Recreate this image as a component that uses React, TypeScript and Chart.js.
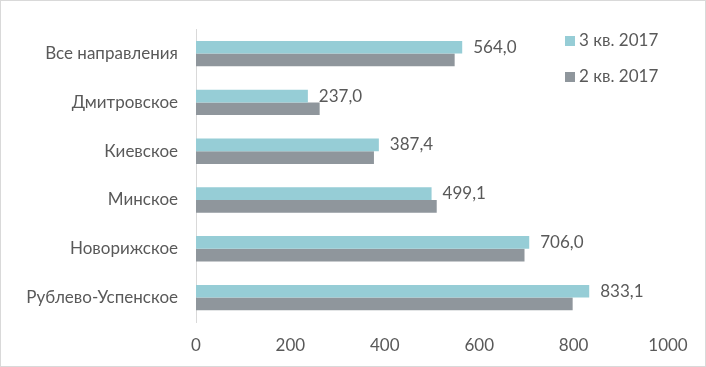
import React, { useEffect, useRef } from "react";
import { Chart, registerables } from "chart.js";

Chart.register(...registerables);

const categories = ["Все направления", "Дмитровское", "Киевское", "Минское", "Новорижское", "Рублево-Успенское"];
const seriesNames = ["3 кв. 2017", "2 кв. 2017"];
const q3Values = [564.0, 237.0, 387.4, 499.1, 706.0, 833.1];
const q2Values = [548, 262, 377, 510, 696, 798];
const xTicks = [0, 200, 400, 600, 800, 1000];

const TEAL = "#96CDD6";
const GRAY = "#8F969C";
const TEXT = "#595959";
const FONT = "Lato, 'Open Sans', sans-serif";
const FS = 17;

export default function App() {
  const ref = useRef<HTMLCanvasElement | null>(null);

  useEffect(() => {
    document.body.style.margin = "0";
    const canvas = ref.current!;
    const labelPlugin = {
      id: "labels",
      afterDatasetsDraw(chart: any) {
        const ctx = chart.ctx;
        ctx.save();
        ctx.font = `${FS}px ${FONT}`;
        ctx.fillStyle = TEXT;
        ctx.textBaseline = "middle";
        ctx.textAlign = "left";
        const meta = chart.getDatasetMeta(0);
        meta.data.forEach((bar: any, i: number) => {
          ctx.fillText(q3Values[i].toFixed(1).replace(".", ","), bar.x + 11, bar.y);
        });
        // legend
        const items = [
          { name: seriesNames[0], color: TEAL, y: 40 },
          { name: seriesNames[1], color: GRAY, y: 76 },
        ];
        items.forEach((it) => {
          ctx.fillStyle = it.color;
          ctx.fillRect(564, it.y - 5, 10, 10);
          ctx.fillStyle = TEXT;
          ctx.fillText(it.name, 578, it.y);
        });
        ctx.restore();
      },
    };

    const chart = new Chart(canvas, {
      type: "bar",
      data: {
        labels: categories,
        datasets: [
          { label: seriesNames[0], data: q3Values, backgroundColor: TEAL, barPercentage: 1, categoryPercentage: 0.52 },
          { label: seriesNames[1], data: q2Values, backgroundColor: GRAY, barPercentage: 1, categoryPercentage: 0.52 },
        ],
      },
      options: {
        indexAxis: "y",
        animation: false,
        responsive: false,
        layout: { padding: { top: 26, right: 37, left: 0, bottom: 0 } },
        plugins: { legend: { display: false }, tooltip: { enabled: false } },
        scales: {
          x: {
            min: 0,
            max: 1000,
            afterBuildTicks(scale: any) {
              scale.ticks = xTicks.map((v) => ({ value: v }));
            },
            grid: { display: false, drawTicks: false },
            border: { display: false },
            ticks: {
              color: TEXT,
              font: { family: FONT, size: FS },
              padding: 13,
              maxRotation: 0,
              callback: (v: any) => String(v),
            },
            afterFit(scale: any) {
              scale.height = 44;
            },
          },
          y: {
            grid: { display: false, drawTicks: false },
            border: { display: true, color: "#D9D9D9", width: 1 },
            ticks: { color: TEXT, font: { family: FONT, size: FS }, padding: 18 },
            afterFit(scale: any) {
              scale.width = 195;
            },
          },
        },
      },
      plugins: [labelPlugin],
    });
    return () => chart.destroy();
  }, []);

  return (
    <div
      style={{
        position: "relative",
        width: 706,
        height: 367,
        boxSizing: "border-box",
        border: "1px solid #D9D9D9",
        background: "#fff",
      }}
    >
      <canvas ref={ref} width={704} height={365} style={{ display: "block" }} />
    </div>
  );
}
